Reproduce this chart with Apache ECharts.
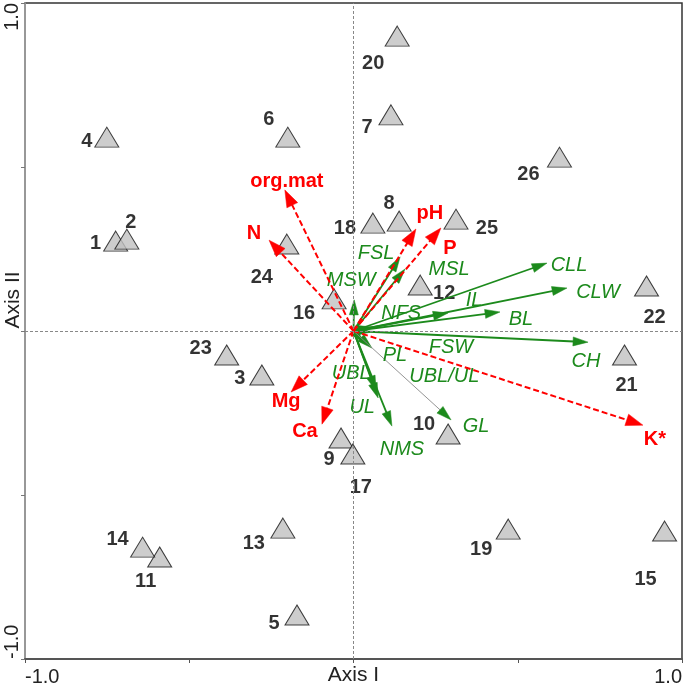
<!DOCTYPE html>
<html><head><meta charset="utf-8">
<script src="https://cdn.jsdelivr.net/npm/echarts@6/dist/echarts.min.js"></script>
<style>html,body{margin:0;padding:0;background:#fff}#c{width:685px;height:689px}</style>
</head><body><div id="c"></div>
<script>
// ---- data ----
const siteNames = ['1','2','3','4','5','6','7','8','9','10','11','12','13','14','15','16','17','18','19','20','21','22','23','24','25','26'];
const siteX = [-0.724,-0.690,-0.279,-0.751,-0.172,-0.200,0.114,0.139,-0.038,0.288,-0.590,0.203,-0.215,-0.642,0.947,-0.059,-0.002,0.059,0.471,0.133,0.825,0.892,-0.386,-0.203,0.312,0.627];
const siteY = [0.274,0.280,-0.134,0.591,-0.866,0.591,0.659,0.335,-0.326,-0.314,-0.689,0.140,-0.601,-0.659,-0.610,0.098,-0.375,0.329,-0.604,0.899,-0.073,0.137,-0.073,0.265,0.341,0.530];

const envNames = ['org.mat','N','pH','P','Mg','Ca','K*'];
const envX = [-0.209,-0.257,0.190,0.266,-0.190,-0.096,0.881];
const envY = [0.430,0.277,0.311,0.314,-0.186,-0.284,-0.287];

const traitNames = ['CLL','CLW','BL','IL','CH','FSL','MSL','MSW','NFS','FSW','PL','UBL','UL','NMS','UBL/UL','GL'];
const traitX = [0.589,0.650,0.446,0.288,0.714,0.142,0.157,0.002,0.060,0.050,0.056,0.075,0.069,0.117,0.030,0.297];
const traitY = [0.207,0.131,0.058,0.055,-0.034,0.226,0.189,0.095,0.012,-0.004,-0.052,-0.204,-0.182,-0.290,-0.035,-0.271];

const xTickLabels = {'-1':'-1.0','1':'1.0'};
const yTickLabels = {'-1':'-1.0','1':'1.0'};
const axisTitles = ['Axis I','Axis II'];

// ---- layout (label placement in pixels, not data) ----
const siteLabelOffset = {
  '1':[-20,2],'2':[4,-17],'3':[-22,4],'4':[-20,4],'5':[-23,8],'6':[-19,-18],'7':[-24,13],
  '8':[-10,-18],'9':[-12,22],'10':[-24,-10],'11':[-14,24],'12':[24,8],'13':[-29,15],
  '14':[-25,-8],'15':[-19,48],'16':[-30,15],'17':[8,33],'18':[-28,5],'19':[-27,20],
  '20':[-24,27],'21':[2,31],'22':[8,31],'23':[-26,-6],'24':[-25,33],'25':[31,9],'26':[-31,17]
};
const envLabelOffset = {
  'org.mat':[2,-8],'N':[-15,-7],'pH':[14,-16],'P':[9,20],'Mg':[-5,9],'Ca':[-17,7],'K*':[12,14]
};
const traitLabelOffset = {
  'CLL':[22,2],'CLW':[31,4],'BL':[21,7],'IL':[26,-13],'CH':[-2,19],'FSL':[-24,-3],'MSL':[44,0],
  'MSW':[-3,-19],'NFS':[28,-14],'FSW':[81,15],'PL':[23,7],'UBL':[-27,-24],'UL':[-14,17],
  'NMS':[10,23],'UBL/UL':[81,34],'GL':[25,7]
};

const RED = '#ff0000';
const GREEN = '#1c8a1c';
const FONT = '"Liberation Sans", Arial, sans-serif';

function arrowRenderer(names, offsets, opt) {
  return function (params, api) {
    const name = names[params.dataIndex];
    const p0 = api.coord([0, 0]);
    const p1 = api.coord([api.value(0), api.value(1)]);
    const dx = p1[0] - p0[0], dy = p1[1] - p0[1];
    const len = Math.sqrt(dx * dx + dy * dy) || 1;
    const ux = dx / len, uy = dy / len;
    const hl = Math.min(opt.headL, len), hw = opt.headW / 2;
    const bx = p1[0] - ux * hl, by = p1[1] - uy * hl;
    const special = opt.special && opt.special[name];
    const lineColor = special ? special.color : opt.color;
    const lineWidth = special ? special.width : opt.width;
    const off = offsets[name] || [0, 0];
    return {
      type: 'group',
      children: [
        {
          type: 'line',
          shape: { x1: p0[0], y1: p0[1], x2: bx + ux * 1, y2: by + uy * 1 },
          style: { stroke: lineColor, lineWidth: lineWidth, lineDash: opt.dash || null, fill: null }
        },
        {
          type: 'polygon',
          shape: { points: [[p1[0], p1[1]], [bx - uy * hw, by + ux * hw], [bx + uy * hw, by - ux * hw]] },
          style: { fill: opt.color, stroke: opt.color, lineWidth: 0.5 }
        },
        {
          type: 'text',
          style: {
            text: name, x: p1[0] + off[0], y: p1[1] + off[1],
            align: 'center', verticalAlign: 'middle',
            fill: opt.color, font: opt.font
          },
          z2: 10
        }
      ]
    };
  };
}

const chart = echarts.init(document.getElementById('c'), null, { renderer: 'canvas' });
chart.setOption({
  animation: false,
  backgroundColor: '#fff',
  grid: { left: 25, top: 3, width: 657, height: 656, outerBoundsMode: 'none', containLabel: false,
          show: true, borderColor: '#333', borderWidth: 1.5, backgroundColor: 'transparent' },
  xAxis: {
    type: 'value', min: -1, max: 1, interval: 0.5,
    name: axisTitles[0], nameLocation: 'middle', nameGap: 6, nameMoveOverlap: false,
    nameTextStyle: { fontSize: 21, color: '#222', fontFamily: FONT, verticalAlign: 'top' },
    axisLine: { show: true, onZero: false, lineStyle: { color: '#555', width: 2 } },
    axisTick: { show: true, length: 4, lineStyle: { color: '#555' } },
    axisLabel: {
      show: true, margin: 8, fontSize: 20, color: '#222', fontFamily: FONT,
      alignMinLabel: 'left', alignMaxLabel: 'right',
      formatter: v => xTickLabels[String(v)] || ''
    },
    splitLine: { show: false }
  },
  yAxis: {
    type: 'value', min: -1, max: 1, interval: 0.5,
    name: axisTitles[1], nameLocation: 'middle', nameGap: 1, nameRotate: 90, nameMoveOverlap: false,
    nameTextStyle: { fontSize: 21, color: '#222', fontFamily: FONT, padding: [0, 0, 0, 62] },
    axisLine: { show: true, onZero: false, lineStyle: { color: '#aaa', width: 1.5 } },
    axisTick: { show: true, length: 4, lineStyle: { color: '#777' } },
    axisLabel: {
      show: true, margin: 3, rotate: 90, fontSize: 20, color: '#222', fontFamily: FONT,
      alignMinLabel: 'left', alignMaxLabel: 'right',
      formatter: v => yTickLabels[String(v)] || ''
    },
    splitLine: { show: false }
  },
  series: [
    {
      type: 'scatter',
      symbol: 'triangle',
      symbolSize: [24, 20],
      itemStyle: { color: '#c0c0c0', borderColor: '#111', borderWidth: 1 },
      data: siteNames.map((n, i) => ({
        name: n, value: [siteX[i], siteY[i]],
        label: { offset: siteLabelOffset[n] }
      })),
      label: {
        show: true, position: 'inside', formatter: p => p.name,
        fontSize: 20, fontWeight: 'bold', color: '#000', fontFamily: FONT
      },
      markLine: {
        silent: true, symbol: 'none', label: { show: false },
        lineStyle: { color: '#888', width: 1, type: [3, 2] },
        data: [{ xAxis: 0 }, { yAxis: 0 }]
      },
      z: 2
    },
    {
      type: 'custom',
      clip: false,
      renderItem: arrowRenderer(traitNames, traitLabelOffset, {
        color: GREEN, width: 1.8, headL: 15, headW: 9,
        font: 'italic 20px ' + FONT,
        special: { 'GL': { color: '#888', width: 0.9 } }
      }),
      encode: { x: 0, y: 1 },
      data: traitNames.map((n, i) => [traitX[i], traitY[i]]),
      z: 3
    },
    {
      type: 'custom',
      clip: false,
      renderItem: arrowRenderer(envNames, envLabelOffset, {
        color: RED, width: 2, headL: 17, headW: 12, dash: [6, 3],
        font: 'bold 20px ' + FONT
      }),
      encode: { x: 0, y: 1 },
      data: envNames.map((n, i) => [envX[i], envY[i]]),
      z: 4
    }
  ]
});
</script></body></html>
